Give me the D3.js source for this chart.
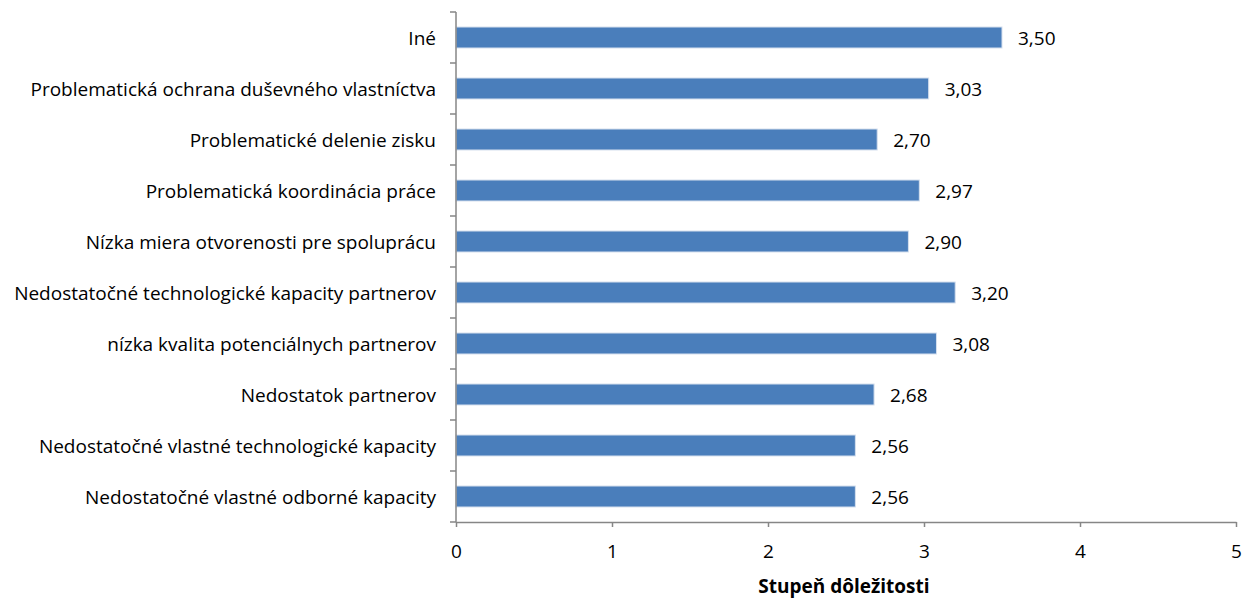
<!DOCTYPE html>
<html>
<head>
<meta charset="utf-8">
<script src="https://cdn.jsdelivr.net/npm/d3@7"></script>
<style>
  html, body { margin: 0; padding: 0; background: #fff; }
  svg { display: block; }
  text { font-family: "Open Sans", "Noto Sans", sans-serif; fill: #000; }
</style>
</head>
<body>
<svg id="chart" width="1242" height="598"></svg>
<script>
// Categories, top to bottom
const categories = [
  "Iné",
  "Problematická ochrana duševného vlastníctva",
  "Problematické delenie zisku",
  "Problematická koordinácia práce",
  "Nízka miera otvorenosti pre spoluprácu",
  "Nedostatočné technologické kapacity partnerov",
  "nízka kvalita potenciálnych partnerov",
  "Nedostatok partnerov",
  "Nedostatočné vlastné technologické kapacity",
  "Nedostatočné vlastné odborné kapacity"
];
const values = [3.50, 3.03, 2.70, 2.97, 2.90, 3.20, 3.08, 2.68, 2.56, 2.56];
const xTicks = [0, 1, 2, 3, 4, 5];
const xTitle = "Stupeň dôležitosti";

const svg = d3.select("#chart");
const plotLeft = 456, plotRight = 1236, plotTop = 12, plotBottom = 522;
const fontSize = 19;

const x = d3.scaleLinear().domain([0, 5]).range([plotLeft, plotRight]);
const yb = d3.scaleBand().domain(categories).range([plotTop, plotBottom]);

const axisColor = "#868686";
const fmt = v => v.toFixed(2).replace(".", ",");

// Bars
svg.append("g").selectAll("rect")
  .data(values)
  .join("rect")
  .attr("x", x(0))
  .attr("y", (d, i) => yb(categories[i]) + yb.bandwidth() / 2 - 10.5)
  .attr("width", d => x(d) - x(0))
  .attr("height", 21)
  .attr("fill", "#4a7ebb")
  .attr("stroke", "#d6e0ee")
  .attr("stroke-width", 1);

// Value labels
svg.append("g").selectAll("text")
  .data(values)
  .join("text")
  .attr("x", d => x(d) + 16)
  .attr("y", (d, i) => yb(categories[i]) + yb.bandwidth() / 2)
  .attr("dy", "0.37em")
  .attr("font-size", fontSize)
  .text(d => fmt(d));

// Category labels
svg.append("g").selectAll("text")
  .data(categories)
  .join("text")
  .attr("x", plotLeft - 20)
  .attr("y", d => yb(d) + yb.bandwidth() / 2)
  .attr("dy", "0.37em")
  .attr("text-anchor", "end")
  .attr("font-size", fontSize)
  .text(d => d);

// Y axis line and band-boundary ticks
const yAxis = svg.append("g");
yAxis.append("line")
  .attr("x1", plotLeft).attr("x2", plotLeft)
  .attr("y1", plotTop).attr("y2", plotBottom)
  .attr("stroke", axisColor).attr("stroke-width", 1.5);
yAxis.selectAll("line.tick")
  .data(d3.range(categories.length + 1))
  .join("line")
  .attr("class", "tick")
  .attr("x1", plotLeft - 6).attr("x2", plotLeft)
  .attr("y1", i => plotTop + i * yb.step())
  .attr("y2", i => plotTop + i * yb.step())
  .attr("stroke", axisColor).attr("stroke-width", 1.5);

// X axis
const xAxis = svg.append("g").attr("transform", `translate(0,${plotBottom})`)
  .call(d3.axisBottom(x).tickValues(xTicks).tickSize(5).tickSizeOuter(0).tickFormat(d => d));
xAxis.select(".domain").attr("stroke", axisColor).attr("stroke-width", 1.5);
xAxis.selectAll(".tick line").attr("stroke", axisColor).attr("stroke-width", 1.5);
xAxis.selectAll(".tick text")
  .attr("font-family", "\"Open Sans\", sans-serif")
  .attr("font-size", fontSize)
  .attr("fill", "#000")
  .attr("y", 36)
  .attr("dy", 0);

// X axis title
svg.append("text")
  .attr("x", 844)
  .attr("y", 593)
  .attr("text-anchor", "middle")
  .attr("font-size", fontSize)
  .attr("font-weight", "bold")
  .text(xTitle);
</script>
</body>
</html>
